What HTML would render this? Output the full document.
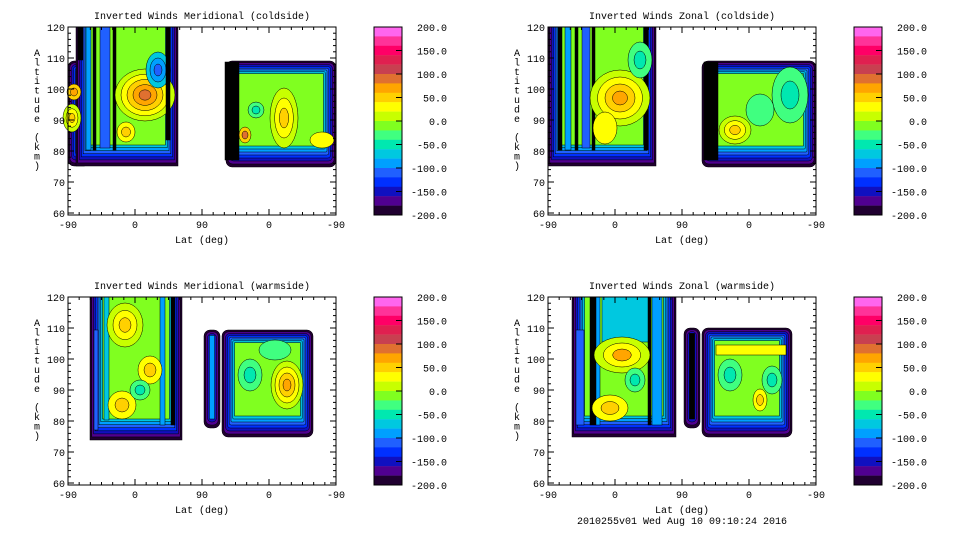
<!DOCTYPE html>
<html><head><meta charset="utf-8"><style>body{margin:0;background:#fff}svg{display:block}text{font-family:"Liberation Mono",monospace;font-size:10px;fill:#000}</style></head>
<body><svg id="s" width="960" height="540" xmlns="http://www.w3.org/2000/svg"></svg>
<script>
const S=document.getElementById('s');let h='';
const bar=['#ff66ee','#ff3399','#ff0066','#e02050','#c84050','#e07030','#ffa500','#ffd000','#ffff00','#c8ff00','#80ff20','#40ff80','#00e8b0','#00c8e0','#00a0ff','#2060ff','#0030ff','#1010c0','#500090','#200030'];
const ring=['#200030','#500090','#1010c0','#0030ff','#2060ff','#00a0ff','#00c8e0','#00e8b0','#40ff80'];
function reg(x1,y1,x2,y2,base,n){n=n||7;for(let i=0;i<n;i++){let d=i*1.8;h+=`<rect x="${x1+d}" y="${y1+d}" width="${x2-x1-2*d}" height="${y2-y1-2*d-i*1.2}" rx="${Math.max(1,6-i)}" fill="${ring[i]}" stroke="#000" stroke-width="0.5"/>`;}
let d=n*1.8;h+=`<rect x="${x1+d}" y="${y1+d}" width="${x2-x1-2*d}" height="${y2-y1-2*d-n*1.2}" fill="${base}" stroke="#000" stroke-width="0.5"/>`;}
function topreg(x1,y1,x2,y2,base){
for(let i=0;i<7;i++){let d=i*1.8;h+=`<rect x="${x1+d}" y="${y1}" width="${x2-x1-2*d}" height="${y2-y1-d*1.7}" fill="${ring[i]}" stroke="#000" stroke-width="0.5"/>`;}
h+=`<rect x="${x1+12.6}" y="${y1}" width="${x2-x1-25.2}" height="${y2-y1-21}" fill="${base}" stroke="#000" stroke-width="0.5"/>`;}
function bl(cx,cy,rx,ry,cols){cols.forEach((c,i)=>{let k=1-i/cols.length;h+=`<ellipse cx="${cx}" cy="${cy}" rx="${rx*k}" ry="${ry*k}" fill="${c}" stroke="#000" stroke-width="0.5"/>`;});}
function st(x,y1,w,y2,c){h+=`<rect x="${x}" y="${y1}" width="${w}" height="${y2-y1}" fill="${c}" stroke="#000" stroke-width="0.5"/>`;}
function axes(ox,oy,title,foot){
 const X0=ox+68,X1=ox+336,Y0=oy+27,Y1=oy+215;
 h+=`<rect x="${X0}" y="${Y0}" width="${X1-X0}" height="${Y1-Y0}" fill="none" stroke="#000" stroke-width="1"/>`;
 for(let i=0;i<=24;i++){let x=X0+i*(X1-X0)/24,L=i%6==0?6:3;h+=`<line x1="${x}" y1="${Y1}" x2="${x}" y2="${Y1-L}" stroke="#000"/><line x1="${x}" y1="${Y0}" x2="${x}" y2="${Y0+L}" stroke="#000"/>`;}
 for(let i=0;i<=60;i+=2){let y=Y1-2-i*3.1,L=i%10==0?6:3;h+=`<line x1="${X0}" y1="${y}" x2="${X0+L}" y2="${y}" stroke="#000"/><line x1="${X1}" y1="${y}" x2="${X1-L}" y2="${y}" stroke="#000"/>`;}
 [120,110,100,90,80,70,60].forEach((v,i)=>{h+=`<text x="${X0-3}" y="${oy+31+i*31}" text-anchor="end">${v}</text>`;});
 ['-90','0','90','0','-90'].forEach((v,i)=>{h+=`<text x="${X0+i*67}" y="${Y1+13}" text-anchor="middle">${v}</text>`;});
 h+=`<text x="${ox+202}" y="${oy+243}" text-anchor="middle">Lat (deg)</text>`;
 h+=`<text x="${ox+202}" y="${oy+19}" text-anchor="middle">${title}</text>`;
 'Altitude (km)'.split('').forEach((c,i)=>{h+=`<text x="${ox+37}" y="${oy+56+i*9.4}" text-anchor="middle">${c}</text>`;});
 for(let i=0;i<20;i++)h+=`<rect x="${ox+374}" y="${oy+27+i*9.4}" width="28" height="9.6" fill="${bar[i]}"/>`;
 h+=`<rect x="${ox+374}" y="${oy+27}" width="28" height="188" fill="none" stroke="#000"/>`;
 for(let i=0;i<=8;i++){h+=`<text x="${ox+447}" y="${oy+31+i*23.5}" text-anchor="end">${(200-50*i).toFixed(1)}</text>`;if(i>0&&i<8)h+=`<line x1="${ox+396}" y1="${oy+27+i*23.5}" x2="${ox+402}" y2="${oy+27+i*23.5}" stroke="#000"/>`;}
 if(foot)h+=`<text x="${ox+202}" y="${oy+254}" text-anchor="middle">${foot}</text>`;
}
// TL
reg(68,61,90,166,'#80ff20',6);topreg(76,27,178,166,'#80ff20');
bl(72,118,9,14,['#c8ff00','#ffff00','#ffd000']);bl(74,92,7,8,['#ffd000','#ffa500']);
st(78,27,5,60,'#000');st(86,27,5,150,'#00a0ff');st(93,27,3,150,'#000');st(100,27,10,148,'#2060ff');st(113,27,3,150,'#000');
bl(145,95,30,26,['#c8ff00','#ffff00','#ffd000','#ffa500','#e07030']);bl(158,70,12,18,['#00c8e0','#00a0ff','#2060ff']);
bl(126,132,9,10,['#ffff00','#ffd000']);st(166,27,4,140,'#000');
reg(226,61,336,167,'#80ff20');st(225,62,14,160,'#000');bl(284,118,14,30,['#c8ff00','#ffff00','#ffd000']);bl(256,110,8,8,['#40ff80','#00e8b0']);bl(322,140,12,8,['#ffff00']);bl(245,135,6,8,['#ffd000','#e07030']);
// TR
topreg(548,27,656,166,'#80ff20');st(558,27,4,150,'#000');st(565,27,6,150,'#00a0ff');st(575,27,3,150,'#000');st(582,27,8,148,'#2060ff');st(592,27,3,150,'#000');st(644,27,4,150,'#000');
bl(620,98,30,28,['#c8ff00','#ffff00','#ffd000','#ffa500']);bl(605,128,12,16,['#ffff00']);bl(640,60,12,18,['#40ff80','#00e8b0']);
reg(702,61,816,167,'#80ff20');st(704,62,14,160,'#000');bl(735,130,16,14,['#c8ff00','#ffff00','#ffd000']);bl(790,95,18,28,['#40ff80','#00e8b0']);bl(760,110,14,16,['#40ff80']);
// BL
topreg(90,297,182,440,'#80ff20');st(94,330,4,430,'#2060ff');st(104,297,5,420,'#00c8e0');st(160,297,5,425,'#00a0ff');st(171,297,4,425,'#000');
bl(125,325,18,22,['#c8ff00','#ffff00','#ffd000']);bl(150,370,12,14,['#ffff00','#ffd000']);bl(122,405,14,14,['#ffff00','#ffd000']);bl(140,390,10,10,['#40ff80','#00e8b0']);
reg(204,330,220,428,'#00a0ff',3);reg(222,330,313,437,'#80ff20');bl(287,385,16,24,['#c8ff00','#ffff00','#ffd000','#ffa500']);bl(250,375,12,16,['#40ff80','#00e8b0']);bl(275,350,16,10,['#40ff80']);
// BR
topreg(572,297,676,437,'#80ff20');st(576,330,8,425,'#2060ff');st(590,297,6,425,'#000');st(596,297,4,425,'#00a0ff');st(652,297,10,425,'#00a0ff');st(648,297,3,425,'#000');
h+=`<rect x="602" y="297" width="46" height="45" fill="#00c8e0" stroke="#000" stroke-width="0.5"/>`;
bl(622,355,28,18,['#c8ff00','#ffff00','#ffa500']);bl(610,408,18,13,['#ffff00','#ffd000']);bl(635,380,10,12,['#40ff80','#00e8b0']);
reg(684,328,700,428,'#000',3);reg(702,328,792,437,'#80ff20');h+=`<rect x="716" y="345" width="70" height="10" fill="#ffff00" stroke="#000" stroke-width="0.5"/>`;
bl(730,375,12,16,['#40ff80','#00e8b0']);bl(772,380,10,14,['#40ff80','#00e8b0']);bl(760,400,7,11,['#ffff00','#ffd000']);
axes(0,0,'Inverted Winds Meridional (coldside)');axes(480,0,'Inverted Winds Zonal (coldside)');
axes(0,270,'Inverted Winds Meridional (warmside)');axes(480,270,'Inverted Winds Zonal (warmside)','2010255v01 Wed Aug 10 09:10:24 2016');
S.innerHTML=h;
</script></body></html>
